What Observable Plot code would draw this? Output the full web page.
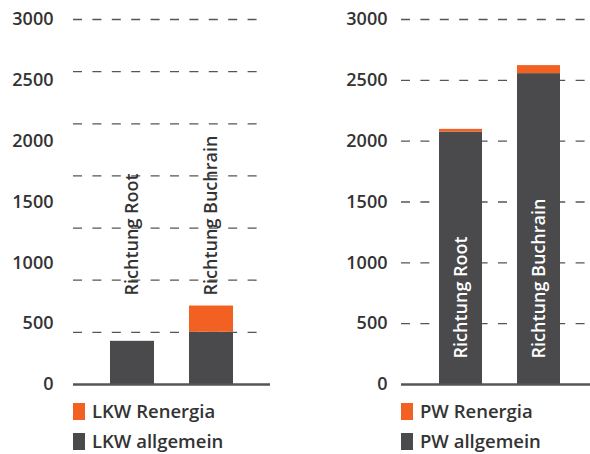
<!DOCTYPE html>
<html>
<head>
<meta charset="utf-8">
<script src="https://cdn.jsdelivr.net/npm/d3@7"></script>
<script src="https://cdn.jsdelivr.net/npm/@observablehq/plot@0.6"></script>
<style>
  html, body { margin: 0; padding: 0; background: #fff; }
  #wrap { position: relative; width: 590px; height: 454px; overflow: hidden; font-family: "Open Sans", sans-serif; }
  .panel { position: absolute; top: 0; }
  .legend { position: absolute; font-size: 18.5px; font-weight: 600; color: #333; }
  .legend .row { position: relative; height: 30px; }
  .legend .sw { position: absolute; left: 0; width: 12px; height: 17px; }
  .legend .lb { position: absolute; white-space: nowrap; line-height: 17px; }
</style>
</head>
<body>
<div id="wrap"></div>
<script>
// ---- data ----
const categories = ["Richtung Root", "Richtung Buchrain"];
const lkwAllgemein = [355, 430];
const lkwRenergia = [0, 215];
const pwAllgemein = [2075, 2555];
const pwRenergia = [22, 66];
const yTicks = [0, 500, 1000, 1500, 2000, 2500, 3000];
const lkwGrid = [428.6, 857.1, 1285.7, 1714.3, 2142.9, 2571.4, 3000];
const pwGrid = [500, 1000, 1500, 2000, 2500, 3000];
const lkwSeries = ["LKW allgemein", "LKW Renergia"];
const pwSeries = ["PW allgemein", "PW Renergia"];

const GRAY = "#4a4a4c";
const ORANGE = "#f26122";

function table(series, a, r) {
  const rows = [];
  categories.forEach((c, i) => {
    rows.push({cat: c, series: series[0], value: a[i]});
    rows.push({cat: c, series: series[1], value: r[i]});
  });
  return rows;
}

function panel({rows, series, grid, width, marginLeft, marginRight, tickPadding, paddingInner, paddingOuter, gridInsetRight, labelDy, labelFill}) {
  return Plot.plot({
    width, height: 395,
    marginLeft, marginRight, marginTop: 19, marginBottom: 11,
    style: {fontFamily: "Open Sans", fontSize: "18px", fontWeight: 600, color: "#333", overflow: "visible", background: "transparent"},
    x: {domain: categories, paddingInner, paddingOuter, axis: null},
    y: {domain: [0, 3000], axis: null},
    color: {domain: series, range: [GRAY, ORANGE]},
    marks: [
      Plot.ruleY(grid, {stroke: "#555", strokeWidth: 1.3, strokeDasharray: "9,10.4", insetRight: gridInsetRight}),
      Plot.barY(rows, {x: "cat", y: "value", fill: "series"}),
      Plot.ruleY([0], {stroke: "#555", strokeWidth: 2.5}),
      Plot.axisY(yTicks, {tickSize: 0, tickPadding, label: null, fill: "#333", tickFormat: d => String(d), fontSize: 18, fontWeight: 600}),
      Plot.text(categories, {x: d => d, frameAnchor: "bottom", dy: labelDy, rotate: -90, textAnchor: "start", lineAnchor: "middle", fill: labelFill, fontSize: 18, fontWeight: 600})
    ]
  });
}

const wrap = document.getElementById("wrap");

const left = panel({
  rows: table(lkwSeries, lkwAllgemein, lkwRenergia), series: lkwSeries, grid: lkwGrid,
  width: 295, marginLeft: 73, marginRight: 25, tickPadding: 20,
  paddingInner: 0.443, paddingOuter: 0.468, gridInsetRight: 11, labelDy: -89, labelFill: "#333"
});
left.classList.add("panel"); left.style.left = "0px";
wrap.appendChild(left);

const right = panel({
  rows: table(pwSeries, pwAllgemein, pwRenergia), series: pwSeries, grid: pwGrid,
  width: 310, marginLeft: 106, marginRight: 7, tickPadding: 14,
  paddingInner: 0.449, paddingOuter: 0.487, gridInsetRight: -20, labelDy: -26, labelFill: "#fff"
});
right.classList.add("panel"); right.style.left = "295px";
wrap.appendChild(right);

function legend(x, series) {
  const div = document.createElement("div");
  div.className = "legend";
  div.style.left = x + "px";
  div.style.top = "403px";
  const items = [[series[1], ORANGE], [series[0], GRAY]];
  items.forEach(([name, col]) => {
    const row = document.createElement("div");
    row.className = "row";
    const sw = document.createElement("div");
    sw.className = "sw"; sw.style.background = col;
    const lb = document.createElement("div");
    lb.className = "lb"; lb.style.left = "19px"; lb.style.top = "-1px";
    lb.textContent = name;
    row.appendChild(sw); row.appendChild(lb);
    div.appendChild(row);
  });
  wrap.appendChild(div);
}
legend(73, lkwSeries);
legend(401, pwSeries);
</script>
</body>
</html>
